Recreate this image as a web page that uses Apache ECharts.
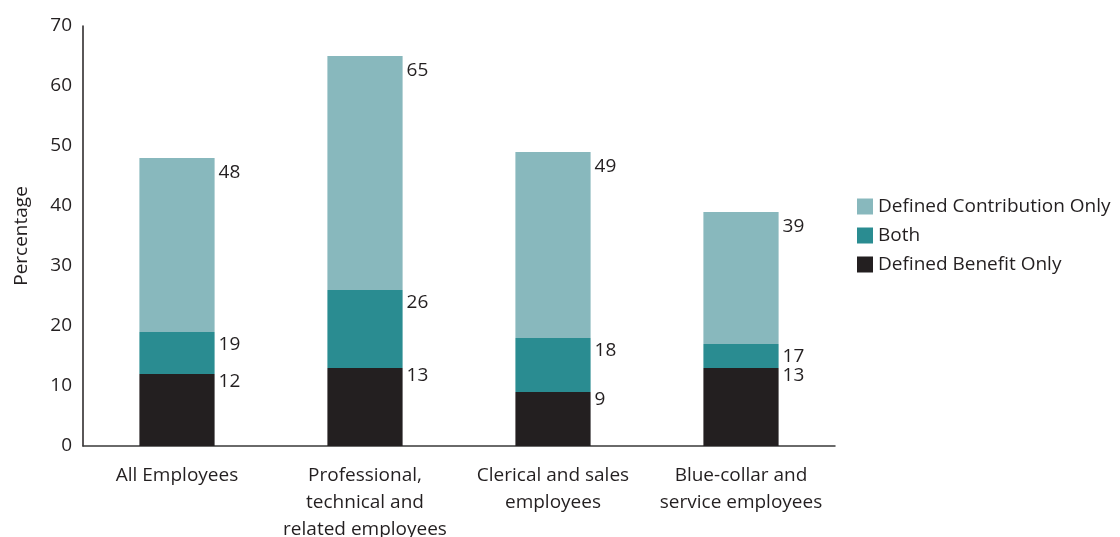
<!DOCTYPE html>
<html>
<head>
<meta charset="utf-8">
<script src="https://cdn.jsdelivr.net/npm/echarts@6/dist/echarts.min.js"></script>
<style>
  html, body { margin: 0; padding: 0; background: #fff; }
  #chart { width: 1120px; height: 537px; }
</style>
</head>
<body>
<div id="chart"></div>
<script>
// Employee groups along the x axis
const categories = [
  'All Employees',
  'Professional,\ntechnical and\nrelated employees',
  'Clerical and sales\nemployees',
  'Blue-collar and\nservice employees'
];

// Cumulative percentages shown at the top of each stacked segment
const dbOnlyTotal = [12, 13, 9, 13];   // Defined Benefit Only
const bothTotal   = [19, 26, 18, 17];  // + Both
const dcOnlyTotal = [48, 65, 49, 39];  // + Defined Contribution Only

const yTicks = { min: 0, max: 70, interval: 10 };

// Segment heights derived from the cumulative totals
const dbOnly = dbOnlyTotal.slice();
const both   = bothTotal.map((v, i) => v - dbOnlyTotal[i]);
const dcOnly = dcOnlyTotal.map((v, i) => v - bothTotal[i]);

const FONT = '"Open Sans", "Noto Sans", sans-serif';
const FS = 19;
const TEXT = '#231f20';

function seg(name, values, totals, color, dy) {
  return {
    name: name,
    type: 'bar',
    stack: 'plans',
    barWidth: '40%',
    data: values,
    itemStyle: { color: color },
    emphasis: { disabled: true },
    label: {
      show: true,
      position: ['100%', 0],
      offset: [4, dy],
      align: 'left',
      verticalAlign: 'middle',
      fontFamily: FONT,
      fontSize: FS,
      color: TEXT,
      formatter: p => String(totals[p.dataIndex])
    }
  };
}

const chart = echarts.init(document.getElementById('chart'), null, { renderer: 'canvas' });
chart.setOption({
  animation: false,
  textStyle: { fontFamily: FONT },
  grid: {
    left: 83, right: 285, top: 26, bottom: 91,
    containLabel: false,
    outerBoundsMode: 'none'
  },
  legend: {
    orient: 'vertical',
    left: 857,
    top: 197,
    padding: 0,
    itemWidth: 16,
    itemHeight: 16,
    itemGap: 10,
    icon: 'rect',
    data: ['Defined Contribution Only', 'Both', 'Defined Benefit Only'],
    textStyle: { fontFamily: FONT, fontSize: FS, color: TEXT }
  },
  xAxis: {
    type: 'category',
    data: categories,
    axisLine: { lineStyle: { color: '#3a3a3a', width: 1.5 } },
    axisTick: { show: false },
    axisLabel: {
      interval: 0,
      margin: 16,
      fontFamily: FONT,
      fontSize: FS,
      color: TEXT,
      lineHeight: 27,
      align: 'center'
    }
  },
  yAxis: {
    type: 'value',
    min: yTicks.min,
    max: yTicks.max,
    interval: yTicks.interval,
    name: 'Percentage',
    nameLocation: 'middle',
    nameGap: 52,
    nameRotate: 90,
    nameTextStyle: { fontFamily: FONT, fontSize: FS, color: TEXT },
    axisLine: { show: true, lineStyle: { color: '#231f20', width: 1.5 } },
    axisTick: { show: false },
    splitLine: { show: false },
    axisLabel: { margin: 11, fontFamily: FONT, fontSize: FS, color: TEXT }
  },
  series: [
    seg('Defined Benefit Only', dbOnly, dbOnlyTotal, '#231f20', 8),
    seg('Both', both, bothTotal, '#2a8c91', 13),
    seg('Defined Contribution Only', dcOnly, dcOnlyTotal, '#88b8bd', 15)
  ]
});
</script>
</body>
</html>
